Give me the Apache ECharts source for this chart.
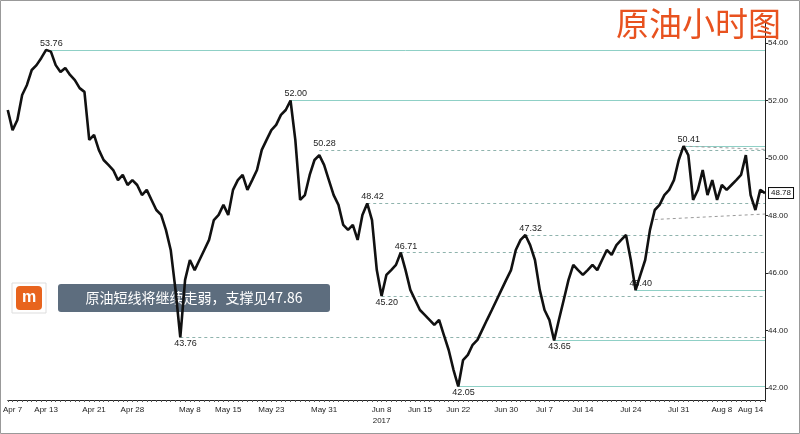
<!DOCTYPE html>
<html><head><meta charset="utf-8">
<script src="https://cdn.jsdelivr.net/npm/echarts@6/dist/echarts.min.js"></script>
<style>html,body{margin:0;padding:0;background:#fff}#c{width:800px;height:434px}</style>
</head><body><div id="c"></div>
<script>
const prices = [51.67,50.97,51.32,52.19,52.54,53.06,53.23,53.48,53.76,53.70,53.23,52.99,53.13,52.89,52.71,52.43,52.30,50.63,50.80,50.28,
49.93,49.76,49.58,49.23,49.41,49.06,49.23,49.06,48.71,48.89,48.54,48.19,48.02,47.50,46.80,45.41,43.76,45.76,46.45,46.10,
46.45,46.80,47.15,47.84,48.02,48.37,48.02,48.89,49.23,49.41,48.89,49.23,49.58,50.28,50.63,50.97,51.15,51.50,51.67,52.00,
50.63,48.54,48.71,49.41,49.93,50.10,49.76,49.23,48.71,48.37,47.67,47.50,47.67,47.15,48.02,48.42,47.84,46.10,45.20,45.93,
46.10,46.28,46.71,46.10,45.41,45.06,44.71,44.54,44.37,44.19,44.37,43.84,43.32,42.63,42.05,42.97,43.15,43.50,43.67,44.02,
44.37,44.71,45.06,45.41,45.76,46.10,46.80,47.15,47.32,46.97,46.45,45.41,44.71,44.37,43.65,44.37,45.06,45.76,46.28,46.10,
45.93,46.10,46.28,46.10,46.45,46.80,46.63,46.97,47.15,47.32,46.45,45.40,45.93,46.45,47.50,48.19,48.37,48.71,48.89,49.23,
49.93,50.41,50.10,48.54,48.89,49.58,48.71,49.23,48.54,49.06,48.89,49.06,49.23,49.41,50.10,48.71,48.19,48.89,48.78];
const tickLabels = {1:'Apr 7',8:'Apr 13',18:'Apr 21',26:'Apr 28',38:'May 8',46:'May 15',55:'May 23',66:'May 31',78:'Jun 8\n2017',86:'Jun 15',94:'Jun 22',104:'Jun 30',112:'Jul 7',120:'Jul 14',130:'Jul 24',140:'Jul 31',149:'Aug 8',155:'Aug 14'};
const categories = prices.map((_, i) => tickLabels[i] || '');
const yTicks = [42,44,46,48,50,52,54];
// level, start index, dashed, label side
const levels = [[53.76,8,false,'top'],[52.00,59,false,'top'],[50.28,65,true,'top'],[50.41,141,false,'top'],[48.42,75,true,'top'],
[47.32,108,true,'top'],[46.71,82,true,'top'],[45.40,131,false,'top'],[45.20,78,true,'bottom'],[43.76,36,true,'bottom'],
[43.65,114,false,'bottom'],[42.05,94,false,'bottom']];
const last = prices.length - 1;
const ml = levels.map(l => [
  {coord:[l[1], l[0]], lineStyle:{type:l[2]?[3,3]:'solid', color:l[2]?'#8fb3ad':'#8fd0c6', width:1},
   label:{show:true, formatter:l[0].toFixed(2), position:l[3]==='top'?'insideStartTop':'insideStartBottom', distance:[-6,2], color:'#222', fontSize:9}},
  {coord:[last, l[0]]}]);
ml.push([{coord:[135,47.86], lineStyle:{type:[3,3], color:'#999', width:1}, label:{show:false}},{coord:[last,48.05]}]);
ml.push([{coord:[141,50.41], lineStyle:{type:[3,3], color:'#999', width:1}, label:{show:false}},{coord:[last,50.3]}]);
const chart = echarts.init(document.getElementById('c'));
chart.setOption({
  animation:false,
  title:{text:'原油小时图', right:14, top:2, textStyle:{color:'#e8521f', fontSize:33, fontWeight:'normal', fontFamily:'Noto Sans CJK SC'}},
  grid:{left:4, right:35, top:20, bottom:34},
  xAxis:{type:'category', data:categories, boundaryGap:false,
    axisLine:{lineStyle:{color:'#222'}}, axisTick:{interval:0, length:2, lineStyle:{color:'#555'}},
    axisLabel:{interval:0, fontSize:8, color:'#222', margin:4, lineHeight:11}, splitLine:{show:false}},
  yAxis:{type:'value', position:'right', min:41.58, max:54.8,
    axisLine:{show:true, lineStyle:{color:'#222'}}, axisTick:{show:true, length:3, inside:false, customValues:yTicks},
    axisLabel:{fontSize:8, color:'#222', margin:3, customValues:yTicks, formatter:v=>v.toFixed(2)}, splitLine:{show:false}},
  series:[{type:'line', data:prices, showSymbol:false, lineStyle:{color:'#111', width:2.6}, z:5,
    endLabel:{show:true, formatter:p=>p.value.toFixed(2), backgroundColor:'#fff', borderColor:'#111', borderWidth:1, padding:[1,2], fontSize:8, color:'#111', distance:4},
    markLine:{silent:true, symbol:'none', data:ml, z:1}}],
  graphic:[
    {type:'rect', shape:{x:0.5,y:0.5,width:799,height:433}, style:{fill:'none', stroke:'#999', lineWidth:1}},
    {type:'rect', shape:{x:12,y:283,width:34,height:30}, style:{fill:'#fff', stroke:'#ddd'}},
    {type:'rect', shape:{x:16,y:286,width:26,height:24,r:4}, style:{fill:'#e8641e'}},
    {type:'text', style:{x:29,y:298,text:'m',fill:'#fff',fontSize:16,fontWeight:'bold',align:'center',verticalAlign:'middle'}},
    {type:'rect', shape:{x:58,y:284,width:272,height:28,r:3}, style:{fill:'#5d6d7e'}},
    {type:'text', style:{x:194,y:298,text:'原油短线将继续走弱，支撑见47.86',fill:'#fff',fontSize:14,align:'center',verticalAlign:'middle',fontFamily:'Noto Sans CJK SC'}}
  ]
});
</script></body></html>
